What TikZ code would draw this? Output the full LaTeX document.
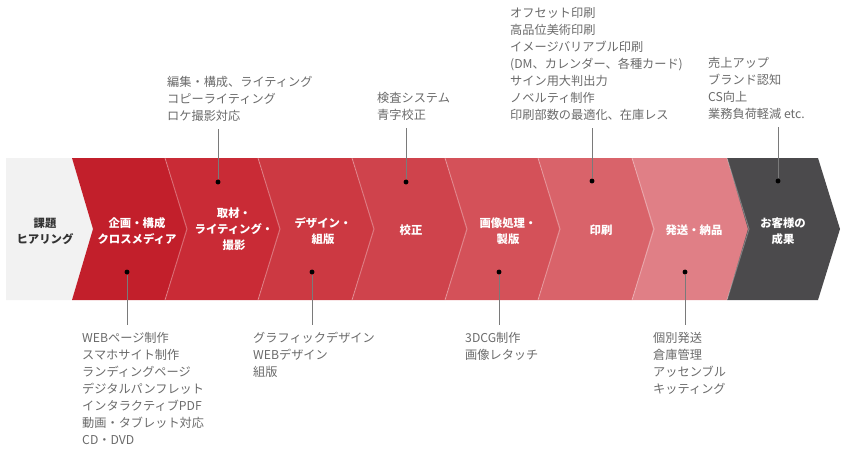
\documentclass[tikz,border=0pt]{standalone}
\usepackage{fontspec}
\setmainfont{Noto Sans CJK JP}
\usetikzlibrary{positioning}
\definecolor{hearinggray}{HTML}{F2F2F2}
\definecolor{stageA}{HTML}{C21F2B}
\definecolor{stageB}{HTML}{C92B36}
\definecolor{stageC}{HTML}{CC3942}
\definecolor{stageD}{HTML}{CF434C}
\definecolor{stageE}{HTML}{D45159}
\definecolor{stageF}{HTML}{D9636A}
\definecolor{stageG}{HTML}{E07F86}
\definecolor{resultgray}{HTML}{4B4A4C}
\definecolor{notegray}{HTML}{6A6A6A}
\definecolor{leadergray}{HTML}{7A7A7A}
\tikzset{
stage/.style={ % labels inside the arrows
text=white,
font=\bfseries\fontsize{9.7pt}{13.5pt}\selectfont,
align=center,
inner sep=0pt},
note/.style={ % grey lists above and below
text=notegray,
font=\fontsize{10.4pt}{14.5pt}\selectfont,
align=left,
anchor=north west,
inner xsep=0pt,
inner ysep=6pt},
pindot/.style={circle, fill=black, inner sep=0pt, minimum size=4.2pt},
leader/.style={draw=leadergray, line width=0.7pt},
sepline/.style={draw=white, draw opacity=0.3, line width=0.8pt}}

\begin{document}
\begin{tikzpicture}[x=0.03cm, y=-0.03cm]
\useasboundingbox (0,0) rectangle (849,448);
% band of arrows
\fill[hearinggray] (6,158) -- (72,158) -- (93,229) -- (72,300) -- (6,300) -- cycle;
\foreach \a/\b/\c in {72/165/stageA, 165/258/stageB, 258/352/stageC, 352/445/stageD,
  445/538/stageE, 538/632/stageF, 632/727/stageG, 727/818/resultgray}
  \fill[\c] (\a,158) -- (\b,158) -- (\b+22,229) -- (\b,300) -- (\a,300) -- (\a+21,229) -- cycle;
\foreach \b in {165,258,352,445,538,632,727}
  \draw[sepline] (\b,158) -- (\b+22,229) -- (\b,300);

% stage labels
\node[stage, text=black!80] (kadai) at (45,231) {課題\\ヒアリング};
\node[stage] (kikaku) at (137,231) {企画・構成\\クロスメディア};
\node[stage] (shuzai) at (234,229) {取材・\\ライティング・\\撮影};
\node[stage] (design) at (323,231) {デザイン・\\組版};
\node[stage] (kousei) at (411,230) {校正};
\node[stage] (seihan) at (508,231) {画像処理・\\製版};
\node[stage] (insatsu) at (601,230) {印刷};
\node[stage] (hassou) at (694,230) {発送・納品};
\node[stage] (seika) at (783,231) {お客様の\\成果};

% pins
\node[pindot] (pshuzai) at (218,182) {};
\node[pindot] (pkousei) at (406,182) {};
\node[pindot] (pinsatsu) at (592,181) {};
\node[pindot] (pseika) at (778,181) {};
\node[pindot] (pkikaku) at (127,272) {};
\node[pindot] (pdesign) at (312,272) {};
\node[pindot] (pseihan) at (499,272) {};
\node[pindot] (phassou) at (685,272) {};

% lists above
\node[note] (henshu) at (167,69) {編集・構成、ライティング\\コピーライティング\\ロケ撮影対応};
\node[note] (kensa) at (377,85) {検査システム\\青字校正};
\node[note] (offset) at (510,0) {オフセット印刷\\高品位美術印刷\\イメージバリアブル印刷\\(DM、カレンダー、各種カード)\\サイン用大判出力\\ノベルティ制作\\印刷部数の最適化、在庫レス};
\node[note] (uriage) at (708,50) {売上アップ\\ブランド認知\\CS向上\\業務負荷軽減 etc.};
% lists below
\node[note] (webpage) at (82,325) {WEBページ制作\\スマホサイト制作\\ランディングページ\\デジタルパンフレット\\インタラクティブPDF\\動画・タブレット対応\\CD・DVD};
\node[note] (graphic) at (253,325) {グラフィックデザイン\\WEBデザイン\\組版};
\node[note] (cg) at (465,325) {3DCG制作\\画像レタッチ};
\node[note] (kobetsu) at (653,325) {個別発送\\倉庫管理\\アッセンブル\\キッティング};

% leaders
\draw[leader] (pshuzai) -- (pshuzai |- henshu.south);
\draw[leader] (pkousei) -- (pkousei |- kensa.south);
\draw[leader] (pinsatsu) -- (pinsatsu |- offset.south);
\draw[leader] (pseika) -- (pseika |- uriage.south);
\draw[leader] (pkikaku) -- (pkikaku |- webpage.north);
\draw[leader] (pdesign) -- (pdesign |- graphic.north);
\draw[leader] (pseihan) -- (pseihan |- cg.north);
\draw[leader] (phassou) -- (phassou |- kobetsu.north);
\end{tikzpicture}
\end{document}
